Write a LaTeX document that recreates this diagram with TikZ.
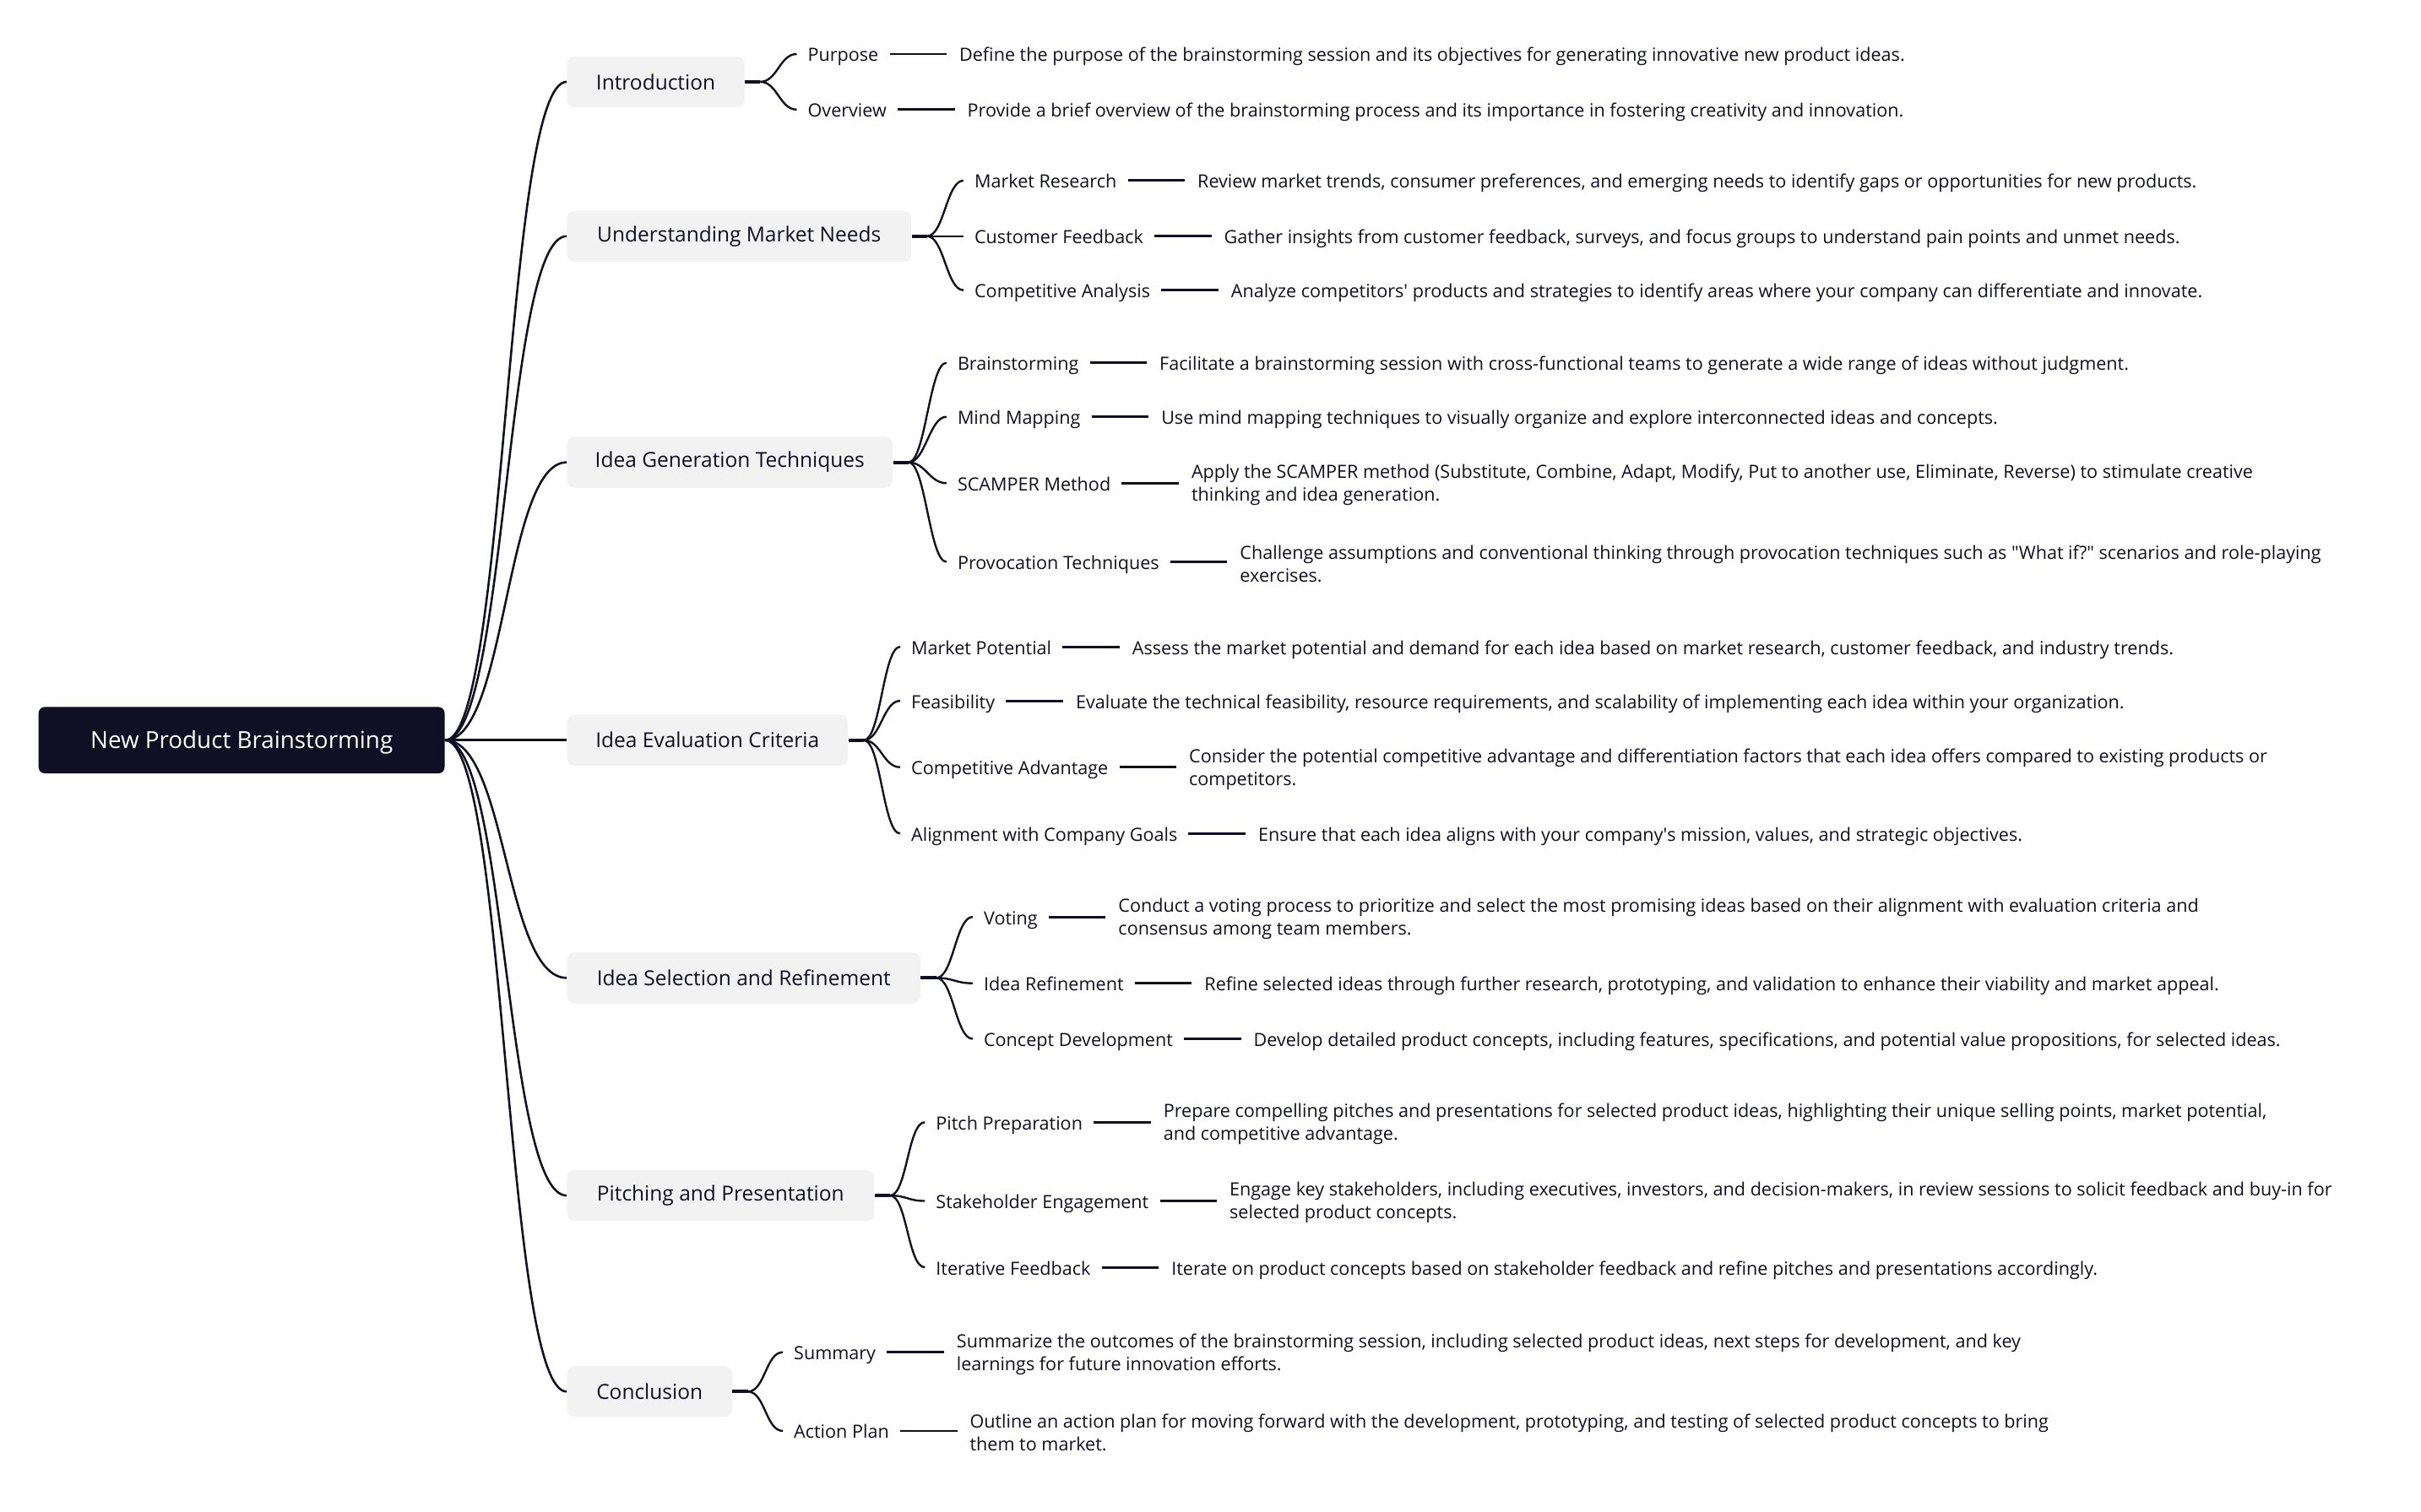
\documentclass[tikz,border=0pt]{standalone}
\usepackage{fontspec}
\setmainfont{Open Sans}
\usepackage{tikz}
\usetikzlibrary{positioning,calc}

\definecolor{ink}{RGB}{16,15,35}
\definecolor{topicgray}{RGB}{242,242,243}

\tikzset{
  rootnode/.style={fill=ink,text=white,rounded corners=4pt,minimum width=263pt,minimum height=43pt,text height=14.5pt,text depth=3.6pt,font=\fontsize{15.2}{17}\selectfont},
  topic/.style={fill=topicgray,text=ink,rounded corners=5pt,anchor=west,minimum height=33pt,inner xsep=18pt,font=\fontsize{13.4}{16}\selectfont},
  sub/.style={anchor=west,inner xsep=7pt,inner ysep=1pt,text=ink,text height=12.6pt,text depth=2.8pt,font=\fontsize{11.8}{14.8}\selectfont},
  note/.style={inner xsep=8pt,inner ysep=1pt,text=ink,text height=12.6pt,text depth=2.8pt,font=\fontsize{11.8}{14.8}\selectfont},
  longnote/.style={inner xsep=8pt,inner ysep=1pt,text=ink,align=left,yshift=-1.2pt,font=\fontsize{11.8}{14.8}\selectfont},
  branch/.style={draw=ink,line width=1.4pt},
  twig/.style={draw=ink,line width=1.3pt},
  dashline/.style={draw=ink,line width=1.6pt},
  stub/.style={draw=ink,line width=2.2pt}
}

\begin{document}
\begin{tikzpicture}[x=1pt,y=-1pt]
%\draw[help lines] (0,0) grid[step=50pt] (1568,979);
\useasboundingbox (0,0) rectangle (1568,979);

\node[rootnode] (root) at (156.5,479.5) {New Product Brainstorming};

\node[topic,minimum width=115pt] (intro) at (367,53) {Introduction};
\node[topic,minimum width=223pt] (market) at (367,153) {Understanding Market Needs};
\node[topic,minimum width=211pt] (gen) at (367,299.5) {Idea Generation Techniques};
\node[topic,minimum width=182pt] (eval) at (367,479.5) {Idea Evaluation Criteria};
\node[topic,minimum width=229pt] (sel) at (367,633.5) {Idea Selection and Refinement};
\node[topic,minimum width=199pt] (pitch) at (367,774.5) {Pitching and Presentation};
\node[topic,minimum width=107pt] (concl) at (367,901.5) {Conclusion};

\foreach \t in {intro,market,gen,sel,pitch,concl}
  \draw[branch] (root.east) .. controls +(40,0) and +(-40,0) .. (\t.west);
\draw[branch] (root.east) -- (eval.west);

% Introduction
\draw[stub] (intro.east) -- ++(10,0) coordinate (introj);
\node[sub] (purpose) at (516,35) {Purpose};
\node[note,right=37pt of purpose] (purposed) {Define the purpose of the brainstorming session and its objectives for generating innovative new product ideas.};
\node[sub] (overview) at (516,71) {Overview};
\node[note,right=37pt of overview] (overviewd) {Provide a brief overview of the brainstorming process and its importance in fostering creativity and innovation.};
\draw[twig] (introj) .. controls +(11,0) and +(-11,0) .. (purpose.west);
\draw[twig] (introj) .. controls +(11,0) and +(-11,0) .. (overview.west);
\draw[dashline] (purpose.east) -- (purpose.east -| purposed.west);
\draw[dashline] (overview.east) -- (overview.east -| overviewd.west);

% Understanding Market Needs
\draw[stub] (market.east) -- ++(10,0) coordinate (marketj);
\node[sub] (research) at (624,117) {Market Research};
\node[note,right=37pt of research] (researchd) {Review market trends, consumer preferences, and emerging needs to identify gaps or opportunities for new products.};
\node[sub] (feedback) at (624,153) {Customer Feedback};
\node[note,right=37pt of feedback] (feedbackd) {Gather insights from customer feedback, surveys, and focus groups to understand pain points and unmet needs.};
\node[sub] (compan) at (624,188) {Competitive Analysis};
\node[note,right=37pt of compan] (compand) {Analyze competitors\textquotesingle\ products and strategies to identify areas where your company can differentiate and innovate.};
\draw[twig] (marketj) .. controls +(11,0) and +(-11,0) .. (research.west);
\draw[twig] (marketj) -- (feedback.west);
\draw[twig] (marketj) .. controls +(11,0) and +(-11,0) .. (compan.west);
\draw[dashline] (research.east) -- (research.east -| researchd.west);
\draw[dashline] (feedback.east) -- (feedback.east -| feedbackd.west);
\draw[dashline] (compan.east) -- (compan.east -| compand.west);

% Idea Generation Techniques
\draw[stub] (gen.east) -- ++(10,0) coordinate (genj);
\node[sub] (storm) at (613,235) {Brainstorming};
\node[note,right=37pt of storm] (stormd) {Facilitate a brainstorming session with cross-functional teams to generate a wide range of ideas without judgment.};
\node[sub] (mindmap) at (613,270) {Mind Mapping};
\node[note,right=37pt of mindmap] (mindmapd) {Use mind mapping techniques to visually organize and explore interconnected ideas and concepts.};
\node[sub] (scamper) at (613,313) {SCAMPER Method};
\node[longnote,right=37pt of scamper] (scamperd) {Apply the SCAMPER method (Substitute, Combine, Adapt, Modify, Put to another use, Eliminate, Reverse) to stimulate creative\\thinking and idea generation.};
\node[sub] (provoc) at (613,364) {Provocation Techniques};
\node[longnote,right=37pt of provoc] (provocd) {Challenge assumptions and conventional thinking through provocation techniques such as \textquotedbl What if?\textquotedbl\ scenarios and role-playing\\exercises.};
\draw[twig] (genj) .. controls +(11,0) and +(-11,0) .. (storm.west);
\draw[twig] (genj) .. controls +(11,0) and +(-11,0) .. (mindmap.west);
\draw[twig] (genj) .. controls +(11,0) and +(-11,0) .. (scamper.west);
\draw[twig] (genj) .. controls +(11,0) and +(-11,0) .. (provoc.west);
\draw[dashline] (storm.east) -- (storm.east -| stormd.west);
\draw[dashline] (mindmap.east) -- (mindmap.east -| mindmapd.west);
\draw[dashline] (scamper.east) -- (scamper.east -| scamperd.west);
\draw[dashline] (provoc.east) -- (provoc.east -| provocd.west);

% Idea Evaluation Criteria
\draw[stub] (eval.east) -- ++(10,0) coordinate (evalj);
\node[sub] (potential) at (583,419) {Market Potential};
\node[note,right=37pt of potential] (potentiald) {Assess the market potential and demand for each idea based on market research, customer feedback, and industry trends.};
\node[sub] (feasible) at (583,454) {Feasibility};
\node[note,right=37pt of feasible] (feasibled) {Evaluate the technical feasibility, resource requirements, and scalability of implementing each idea within your organization.};
\node[sub] (advantage) at (583,497) {Competitive Advantage};
\node[longnote,right=37pt of advantage] (advantaged) {Consider the potential competitive advantage and differentiation factors that each idea offers compared to existing products or\\competitors.};
\node[sub] (goals) at (583,540) {Alignment with Company Goals};
\node[note,right=37pt of goals] (goalsd) {Ensure that each idea aligns with your company\textquotesingle s mission, values, and strategic objectives.};
\draw[twig] (evalj) .. controls +(11,0) and +(-11,0) .. (potential.west);
\draw[twig] (evalj) .. controls +(11,0) and +(-11,0) .. (feasible.west);
\draw[twig] (evalj) .. controls +(11,0) and +(-11,0) .. (advantage.west);
\draw[twig] (evalj) .. controls +(11,0) and +(-11,0) .. (goals.west);
\draw[dashline] (potential.east) -- (potential.east -| potentiald.west);
\draw[dashline] (feasible.east) -- (feasible.east -| feasibled.west);
\draw[dashline] (advantage.east) -- (advantage.east -| advantaged.west);
\draw[dashline] (goals.east) -- (goals.east -| goalsd.west);

% Idea Selection and Refinement
\draw[stub] (sel.east) -- ++(10,0) coordinate (selj);
\node[sub] (voting) at (630,594) {Voting};
\node[longnote,right=37pt of voting] (votingd) {Conduct a voting process to prioritize and select the most promising ideas based on their alignment with evaluation criteria and\\consensus among team members.};
\node[sub] (refine) at (630,637) {Idea Refinement};
\node[note,right=37pt of refine] (refined) {Refine selected ideas through further research, prototyping, and validation to enhance their viability and market appeal.};
\node[sub] (concept) at (630,673) {Concept Development};
\node[note,right=37pt of concept] (conceptd) {Develop detailed product concepts, including features, specifications, and potential value propositions, for selected ideas.};
\draw[twig] (selj) .. controls +(11,0) and +(-11,0) .. (voting.west);
\draw[twig] (selj) .. controls +(11,0) and +(-11,0) .. (refine.west);
\draw[twig] (selj) .. controls +(11,0) and +(-11,0) .. (concept.west);
\draw[dashline] (voting.east) -- (voting.east -| votingd.west);
\draw[dashline] (refine.east) -- (refine.east -| refined.west);
\draw[dashline] (concept.east) -- (concept.east -| conceptd.west);

% Pitching and Presentation
\draw[stub] (pitch.east) -- ++(10,0) coordinate (pitchj);
\node[sub] (prep) at (599,727) {Pitch Preparation};
\node[longnote,right=37pt of prep] (prepd) {Prepare compelling pitches and presentations for selected product ideas, highlighting their unique selling points, market potential,\\and competitive advantage.};
\node[sub] (stake) at (599,778) {Stakeholder Engagement};
\node[longnote,right=37pt of stake] (staked) {Engage key stakeholders, including executives, investors, and decision-makers, in review sessions to solicit feedback and buy-in for\\selected product concepts.};
\node[sub] (iter) at (599,821) {Iterative Feedback};
\node[note,right=37pt of iter] (iterd) {Iterate on product concepts based on stakeholder feedback and refine pitches and presentations accordingly.};
\draw[twig] (pitchj) .. controls +(11,0) and +(-11,0) .. (prep.west);
\draw[twig] (pitchj) .. controls +(11,0) and +(-11,0) .. (stake.west);
\draw[twig] (pitchj) .. controls +(11,0) and +(-11,0) .. (iter.west);
\draw[dashline] (prep.east) -- (prep.east -| prepd.west);
\draw[dashline] (stake.east) -- (stake.east -| staked.west);
\draw[dashline] (iter.east) -- (iter.east -| iterd.west);

% Conclusion
\draw[stub] (concl.east) -- ++(10,0) coordinate (conclj);
\node[sub] (summary) at (507,876) {Summary};
\node[longnote,right=37pt of summary] (summaryd) {Summarize the outcomes of the brainstorming session, including selected product ideas, next steps for development, and key\\learnings for future innovation efforts.};
\node[sub] (action) at (507,927) {Action Plan};
\node[longnote,right=37pt of action] (actiond) {Outline an action plan for moving forward with the development, prototyping, and testing of selected product concepts to bring\\them to market.};
\draw[twig] (conclj) .. controls +(11,0) and +(-11,0) .. (summary.west);
\draw[twig] (conclj) .. controls +(11,0) and +(-11,0) .. (action.west);
\draw[dashline] (summary.east) -- (summary.east -| summaryd.west);
\draw[dashline] (action.east) -- (action.east -| actiond.west);
\end{tikzpicture}
\end{document}
